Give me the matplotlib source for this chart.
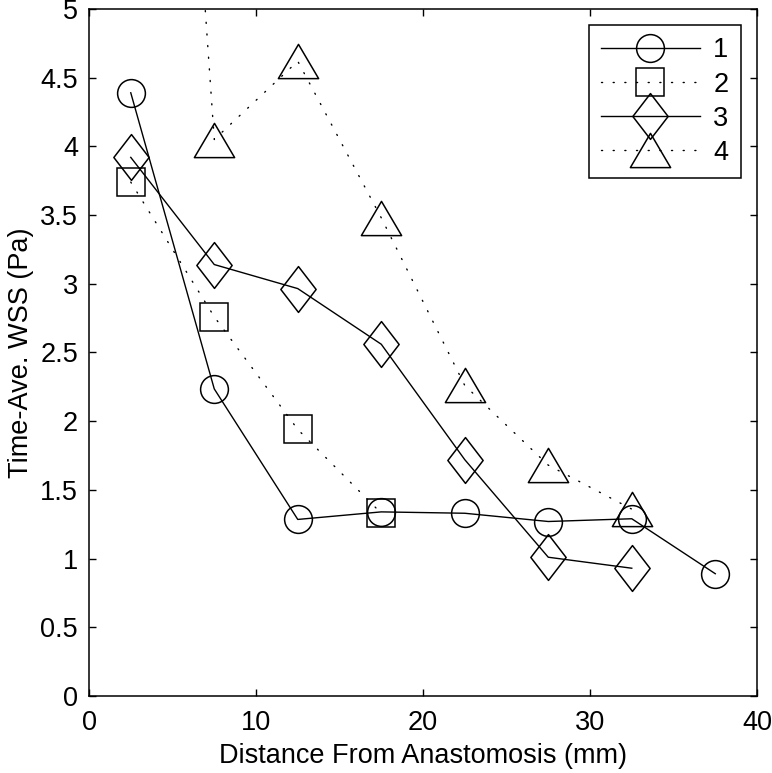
#!/usr/bin/env python

import numpy as np
import matplotlib
matplotlib.use('Agg')
from matplotlib import pyplot as plt
from matplotlib.path import Path

# distance from anastomosis (mm) and time-averaged WSS (Pa)
x1 = [2.5, 7.5, 12.5, 17.5, 22.5, 27.5, 32.5, 37.5]
y1 = [4.39, 2.235, 1.285, 1.34, 1.33, 1.27, 1.29, 0.89]

x2 = [2.5, 7.5, 12.5, 17.5]
y2 = [3.74, 2.76, 1.94, 1.33]

x3 = [2.5, 7.5, 12.5, 17.5, 22.5, 27.5, 32.5]
y3 = [3.92, 3.14, 2.965, 2.56, 1.72, 1.01, 0.93]

x4 = [2.5, 7.5, 12.5, 17.5, 22.5, 27.5, 32.5]
y4 = [12.8, 4.05, 4.62, 3.48, 2.26, 1.68, 1.36]

labels = ['1', '2', '3', '4']
xticks = [0, 10, 20, 30, 40]
yticks = [0, 0.5, 1, 1.5, 2, 2.5, 3, 3.5, 4, 4.5, 5]


def MakeMarkers():
    diamond = Path([(0, 1), (0.77, 0), (0, -1), (-0.77, 0), (0, 1)],
                   [Path.MOVETO, Path.LINETO, Path.LINETO, Path.LINETO, Path.CLOSEPOLY])
    tri = Path([(0, 0.85), (1, -0.85), (-1, -0.85), (0, 0.85)],
               [Path.MOVETO, Path.LINETO, Path.LINETO, Path.CLOSEPOLY])
    return diamond, tri


def MakePlot():
    plt.rcParams['font.family'] = ['Liberation Sans', 'DejaVu Sans']
    fs = 19.5
    fig = plt.figure(figsize=(7.72, 7.73), dpi=100)
    axe = fig.add_axes([0.1153, 0.0996, 0.9806 - 0.1153, 0.9884 - 0.0996])
    diamond, tri = MakeMarkers()
    dots = (0, (0.8, 7.6))
    common = dict(color='k', lw=1.0, mfc='none', mec='k', mew=1.1, dash_capstyle='round')
    axe.plot(x1, y1, ls='-', marker='o', ms=20, label=labels[0], **common)
    axe.plot(x2, y2, ls=dots, marker='s', ms=19.5, label=labels[1], **common)
    axe.plot(x3, y3, ls='-', marker=diamond, ms=33, label=labels[2], **common)
    axe.plot(x4, y4, ls=dots, marker=tri, ms=29, label=labels[3], **common)

    axe.set_xlim(0, 40)
    axe.set_ylim(0, 5)
    axe.set_xticks(xticks)
    axe.set_yticks(yticks)
    axe.set_yticklabels([('%g' % v) for v in yticks])
    axe.tick_params(axis='both', direction='in', length=5, width=1, top=True, right=True,
                    labelsize=fs)
    axe.tick_params(axis='x', pad=10)
    axe.tick_params(axis='y', pad=8)
    for sp in axe.spines.values():
        sp.set_linewidth(1.1)
    axe.set_xlabel('Distance From Anastomosis (mm)', size=fs, labelpad=5)
    axe.set_ylabel('Time-Ave. WSS (Pa)', size=fs, labelpad=4)

    leg = axe.legend(loc='upper right', fontsize=fs, numpoints=1, handlelength=3.65,
                     labelspacing=0.3, borderaxespad=0.6, fancybox=False,
                     edgecolor='k', framealpha=1, handletextpad=0.5, borderpad=0.45)
    leg.get_frame().set_linewidth(1.1)
    fig.savefig('out.png', dpi=100)


def main():
    MakePlot()


if __name__ == '__main__':
    main()
